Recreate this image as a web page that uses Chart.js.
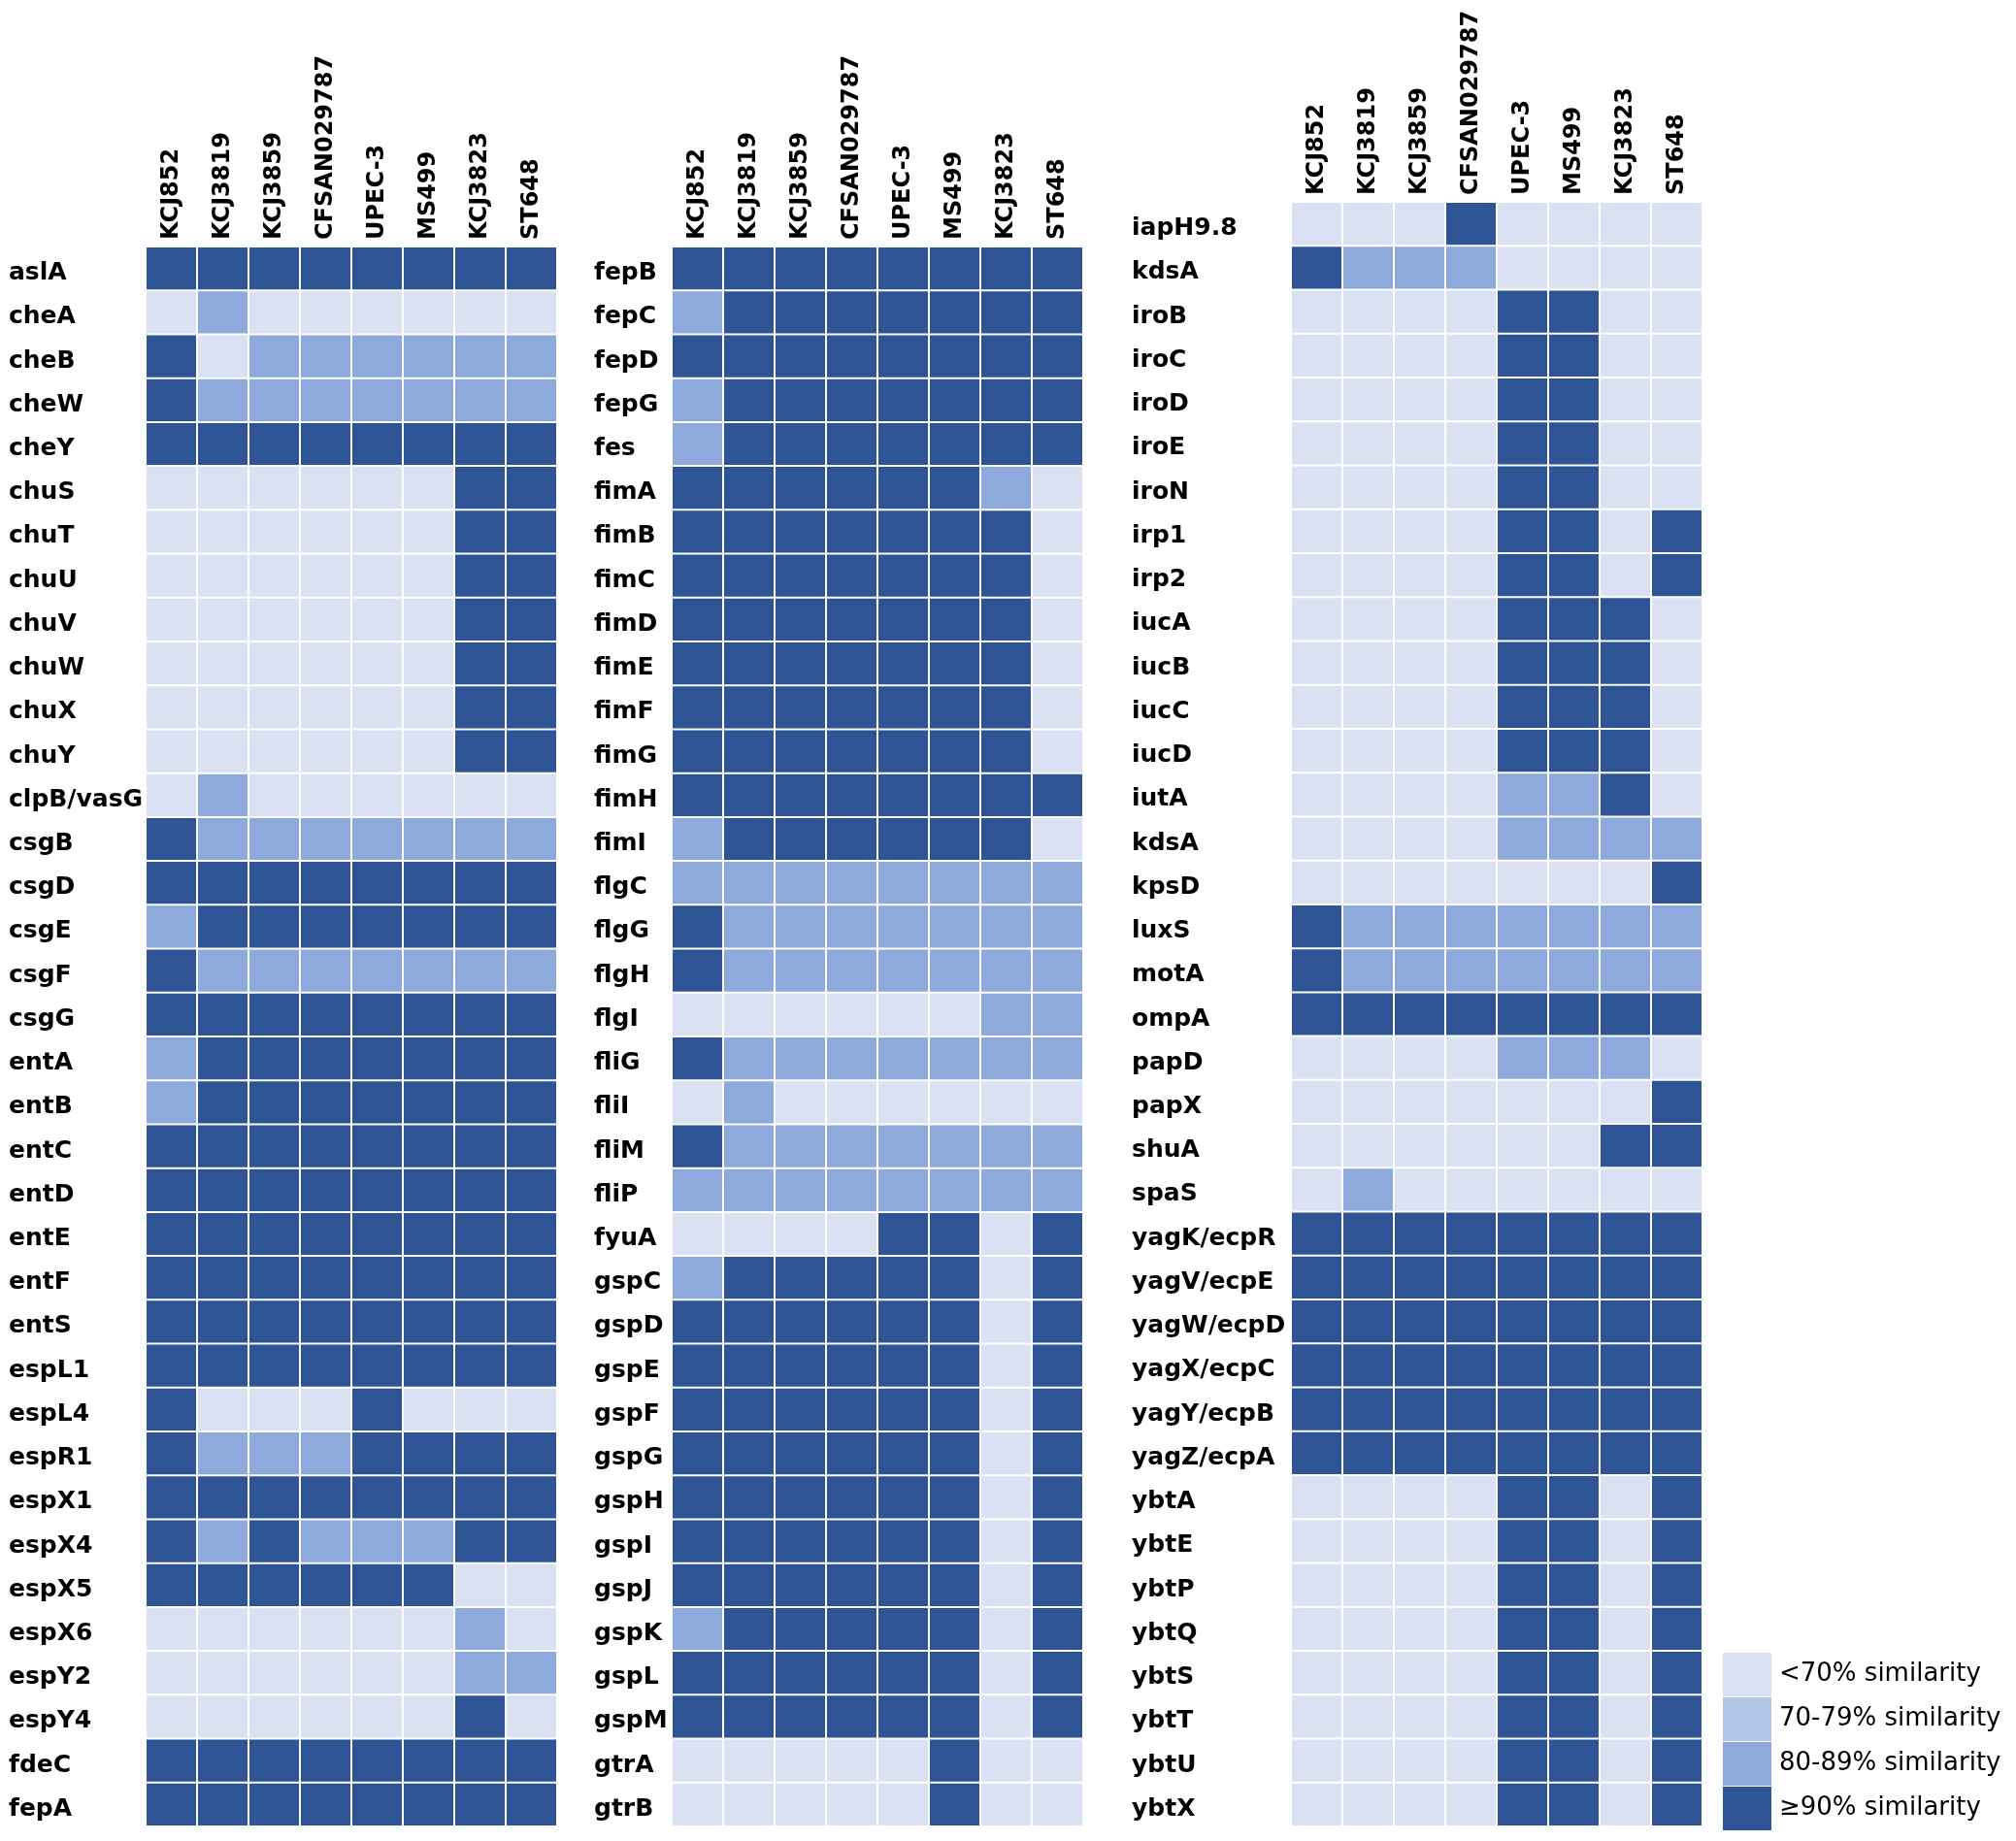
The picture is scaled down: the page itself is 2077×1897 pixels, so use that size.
<!DOCTYPE html>
<html><head><meta charset="utf-8">
<script src="https://cdn.jsdelivr.net/npm/chart.js@4.4.0/dist/chart.umd.min.js"></script>
<style>
html,body{margin:0;padding:0;background:#fff;width:2077px;height:1897px;overflow:hidden;}
canvas{position:absolute;}
</style></head><body>
<canvas id="p1"></canvas><canvas id="p2"></canvas><canvas id="p3"></canvas><canvas id="lg"></canvas>
<script>
// ---- data ----
const strains = ['KCJ852','KCJ3819','KCJ3859','CFSAN029787','UPEC-3','MS499','KCJ3823','ST648'];

const genesA = ['aslA','cheA','cheB','cheW','cheY','chuS','chuT','chuU','chuV','chuW','chuX','chuY','clpB/vasG','csgB','csgD','csgE','csgF','csgG','entA','entB','entC','entD','entE','entF','entS','espL1','espL4','espR1','espX1','espX4','espX5','espX6','espY2','espY4','fdeC','fepA'];
// similarity class per gene (0 = <70%, 1 = 70-79%, 2 = 80-89%, 3 = >=90%), one value per strain
const levelsA = [
  [3,3,3,3,3,3,3,3],[0,2,0,0,0,0,0,0],[3,0,2,2,2,2,2,2],[3,2,2,2,2,2,2,2],[3,3,3,3,3,3,3,3],
  [0,0,0,0,0,0,3,3],[0,0,0,0,0,0,3,3],[0,0,0,0,0,0,3,3],[0,0,0,0,0,0,3,3],[0,0,0,0,0,0,3,3],
  [0,0,0,0,0,0,3,3],[0,0,0,0,0,0,3,3],[0,2,0,0,0,0,0,0],[3,2,2,2,2,2,2,2],[3,3,3,3,3,3,3,3],
  [2,3,3,3,3,3,3,3],[3,2,2,2,2,2,2,2],[3,3,3,3,3,3,3,3],[2,3,3,3,3,3,3,3],[2,3,3,3,3,3,3,3],
  [3,3,3,3,3,3,3,3],[3,3,3,3,3,3,3,3],[3,3,3,3,3,3,3,3],[3,3,3,3,3,3,3,3],[3,3,3,3,3,3,3,3],
  [3,3,3,3,3,3,3,3],[3,0,0,0,3,0,0,0],[3,2,2,2,3,3,3,3],[3,3,3,3,3,3,3,3],[3,2,3,2,2,2,3,3],
  [3,3,3,3,3,3,0,0],[0,0,0,0,0,0,2,0],[0,0,0,0,0,0,2,2],[0,0,0,0,0,0,3,0],[3,3,3,3,3,3,3,3],
  [3,3,3,3,3,3,3,3]
];

const genesB = ['fepB','fepC','fepD','fepG','fes','fimA','fimB','fimC','fimD','fimE','fimF','fimG','fimH','fimI','flgC','flgG','flgH','flgI','fliG','fliI','fliM','fliP','fyuA','gspC','gspD','gspE','gspF','gspG','gspH','gspI','gspJ','gspK','gspL','gspM','gtrA','gtrB'];
const levelsB = [
  [3,3,3,3,3,3,3,3],[2,3,3,3,3,3,3,3],[3,3,3,3,3,3,3,3],[2,3,3,3,3,3,3,3],[2,3,3,3,3,3,3,3],
  [3,3,3,3,3,3,2,0],[3,3,3,3,3,3,3,0],[3,3,3,3,3,3,3,0],[3,3,3,3,3,3,3,0],[3,3,3,3,3,3,3,0],
  [3,3,3,3,3,3,3,0],[3,3,3,3,3,3,3,0],[3,3,3,3,3,3,3,3],[2,3,3,3,3,3,3,0],[2,2,2,2,2,2,2,2],
  [3,2,2,2,2,2,2,2],[3,2,2,2,2,2,2,2],[0,0,0,0,0,0,2,2],[3,2,2,2,2,2,2,2],[0,2,0,0,0,0,0,0],
  [3,2,2,2,2,2,2,2],[2,2,2,2,2,2,2,2],[0,0,0,0,3,3,0,3],[2,3,3,3,3,3,0,3],[3,3,3,3,3,3,0,3],
  [3,3,3,3,3,3,0,3],[3,3,3,3,3,3,0,3],[3,3,3,3,3,3,0,3],[3,3,3,3,3,3,0,3],[3,3,3,3,3,3,0,3],
  [3,3,3,3,3,3,0,3],[2,3,3,3,3,3,0,3],[3,3,3,3,3,3,0,3],[3,3,3,3,3,3,0,3],[0,0,0,0,0,3,0,0],
  [0,0,0,0,0,3,0,0]
];

const genesC = ['iapH9.8','kdsA','iroB','iroC','iroD','iroE','iroN','irp1','irp2','iucA','iucB','iucC','iucD','iutA','kdsA','kpsD','luxS','motA','ompA','papD','papX','shuA','spaS','yagK/ecpR','yagV/ecpE','yagW/ecpD','yagX/ecpC','yagY/ecpB','yagZ/ecpA','ybtA','ybtE','ybtP','ybtQ','ybtS','ybtT','ybtU','ybtX'];
const levelsC = [
  [0,0,0,3,0,0,0,0],[3,2,2,2,0,0,0,0],[0,0,0,0,3,3,0,0],[0,0,0,0,3,3,0,0],[0,0,0,0,3,3,0,0],
  [0,0,0,0,3,3,0,0],[0,0,0,0,3,3,0,0],[0,0,0,0,3,3,0,3],[0,0,0,0,3,3,0,3],[0,0,0,0,3,3,3,0],
  [0,0,0,0,3,3,3,0],[0,0,0,0,3,3,3,0],[0,0,0,0,3,3,3,0],[0,0,0,0,2,2,3,0],[0,0,0,0,2,2,2,2],
  [0,0,0,0,0,0,0,3],[3,2,2,2,2,2,2,2],[3,2,2,2,2,2,2,2],[3,3,3,3,3,3,3,3],[0,0,0,0,2,2,2,0],
  [0,0,0,0,0,0,0,3],[0,0,0,0,0,0,3,3],[0,2,0,0,0,0,0,0],[3,3,3,3,3,3,3,3],[3,3,3,3,3,3,3,3],
  [3,3,3,3,3,3,3,3],[3,3,3,3,3,3,3,3],[3,3,3,3,3,3,3,3],[3,3,3,3,3,3,3,3],[0,0,0,0,3,3,0,3],
  [0,0,0,0,3,3,0,3],[0,0,0,0,3,3,0,3],[0,0,0,0,3,3,0,3],[0,0,0,0,3,3,0,3],[0,0,0,0,3,3,0,3],
  [0,0,0,0,3,3,0,3],[0,0,0,0,3,3,0,3]
];

const classLabels = ['<70% similarity','70-79% similarity','80-89% similarity','\u226590% similarity'];
const classColors = ['#D9E1F2','#B4C6E7','#8EA9DB','#2F5496'];

// ---- layout (page pixels) ----
const FONT = "'DejaVu Sans', Lato, sans-serif";
const BOTTOM = 1882;
const HEAD_SIZE = 24;
const ROW_SIZE = 25;
const panels = [
  {id:'p1', genes:genesA, levels:levelsA, labelX:9,    gridLeft:150,  gridRight:574,  top:254},
  {id:'p2', genes:genesB, levels:levelsB, labelX:612,  gridLeft:692,  gridRight:1116, top:254},
  {id:'p3', genes:genesC, levels:levelsC, labelX:1166, gridLeft:1330, gridRight:1754, top:208}
];

function sizeCanvas(cv, left, top, w, h) {
  cv.width = w; cv.height = h;
  cv.style.left = left + 'px'; cv.style.top = top + 'px';
  cv.style.width = w + 'px'; cv.style.height = h + 'px';
}

panels.forEach(p => {
  const cv = document.getElementById(p.id);
  sizeCanvas(cv, p.labelX, 0, p.gridRight - p.labelX, BOTTOM);
  const datasets = strains.map((s, j) => ({
    label: s,
    data: p.genes.map(() => 1),
    backgroundColor: p.levels.map(r => classColors[r[j]]),
    borderColor: '#ffffff',
    borderWidth: 1,
    borderSkipped: false,
    inflateAmount: 0,
    barPercentage: 1,
    categoryPercentage: 1,
    xAxisID: 'x',
    yAxisID: 'y'
  }));
  new Chart(cv, {
    type: 'bar',
    data: { labels: p.genes, datasets },
    options: {
      indexAxis: 'y',
      responsive: false,
      animation: false,
      layout: { padding: 0 },
      plugins: { legend: { display: false }, tooltip: { enabled: false } },
      scales: {
        x: { type: 'linear', stacked: true, min: 0, max: strains.length, display: false },
        x2: {
          type: 'category', labels: strains, position: 'top', offset: true,
          grid: { display: false, drawTicks: false }, border: { display: false },
          ticks: { autoSkip: false, minRotation: 90, maxRotation: 90, padding: 7,
                   labelOffset: HEAD_SIZE * 1.2,
                   color: '#000', font: { family: FONT, size: HEAD_SIZE, weight: 'bold' } },
          afterFit: s => { s.height = p.top; s.paddingLeft = 0; s.paddingRight = 0; }
        },
        y: {
          type: 'category', stacked: true, offset: true,
          grid: { display: false, drawTicks: false }, border: { display: false },
          ticks: { autoSkip: false, crossAlign: 'far', padding: 0, labelOffset: 5,
                   color: '#000', font: { family: FONT, size: ROW_SIZE, weight: 'bold' } },
          afterFit: s => { s.width = p.gridLeft - p.labelX; s.paddingTop = 0; s.paddingBottom = 0; }
        }
      }
    }
  });
});

// legend (wide transparent canvas so the legend box is not clipped)
const lg = document.getElementById('lg');
sizeCanvas(lg, 1769, 1697, 800, 1897 - 1697);
new Chart(lg, {
  type: 'bar',
  data: { labels: [], datasets: [] },
  options: {
    responsive: false, animation: false,
    layout: { padding: 0 },
    scales: { x: { display: false }, y: { display: false } },
    plugins: {
      tooltip: { enabled: false },
      legend: {
        display: true, position: 'left', align: 'start', onClick: null,
        labels: {
          boxWidth: 40, boxHeight: 35, padding: 11, color: '#000',
          font: { family: FONT, size: 26 },
          generateLabels: () => classLabels.map((t, i) => ({
            text: t, fillStyle: classColors[i], strokeStyle: classColors[i], lineWidth: 10,
            lineJoin: 'miter', hidden: false, index: i
          }))
        }
      }
    }
  }
});
</script>
</body></html>
